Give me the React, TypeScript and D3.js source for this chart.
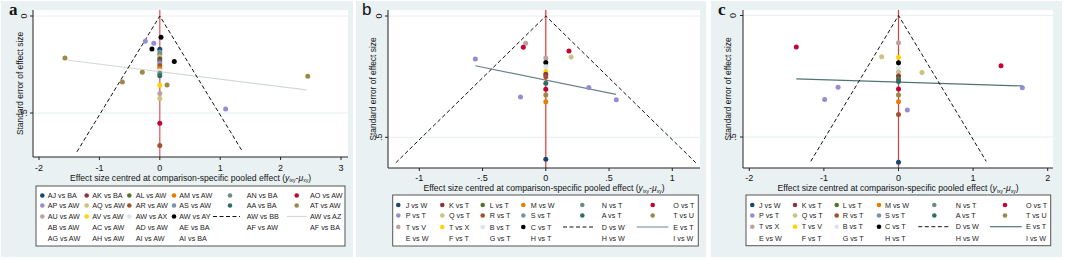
import React from 'react';
import * as d3 from 'd3';

// Stata s2color palette (legend key order)
const PALETTE = ['#1a476f', '#90353b', '#55752f', '#e37e00', '#6e8e84', '#c10534', '#938dd2', '#cac27e', '#a0522d', '#7b92a8', '#2d6d66', '#9c8847', '#bfa19c', '#ffd200', '#d9e6eb', '#000000'];

// ---------- Panel a ----------
const A_LEGEND = [
  'AJ vs BA', 'AK vs BA', 'AL vs AW', 'AM vs AW', 'AN vs BA', 'AO vs AW',
  'AP vs AW', 'AQ vs AW', 'AR vs AW', 'AS vs AW', 'AA vs BA', 'AT vs AW',
  'AU vs AW', 'AV vs AW', 'AW vs AX', 'AW vs AY', 'AW vs BB', 'AW vs AZ',
  'AB vs AW', 'AC vs AW', 'AD vs AW', 'AE vs BA', 'AF vs AW', 'AF vs BA',
  'AG vs AW', 'AH vs AW', 'AI vs AW', 'AI vs BA',
];
const A_X = [0.02, -0.13, 0.24, -0.24, -0.10, 1.09, -1.57, -0.29, -0.62, 0.12, 2.45,
  0, 0, 0, 0, 0, 0, 0, 0, 0, 0, 0, 0, 0, 0, 0, 0, 0];
const A_SE = [0.11, 0.17, 0.235, 0.13, 0.14, 0.48, 0.216, 0.29, 0.34, 0.356, 0.31,
  0.172, 0.185, 0.197, 0.21, 0.222, 0.232, 0.244, 0.256, 0.27, 0.282, 0.295, 0.308, 0.357, 0.40, 0.425, 0.553, 0.668];
const A_KEY = [15, 15, 15, 6, 6, 6, 11, 11, 11, 11, 11,
  0, 9, 4, 7, 1, 2, 6, 8, 3, 14, 4, 10, 13, 12, 7, 5, 8];
const A_FIT_X = [-1.52, 2.43];
const A_FIT_SE = [0.228, 0.381];
const A_FUNNEL_SE = 0.70;
const A_XTICKS = [-2, -1, 0, 1, 2, 3];
const A_XTICK_LABELS = ['-2', '-1', '0', '1', '2', '3'];

// ---------- Panel b ----------
const B_LEGEND = [
  'J vs W', 'K vs T', 'L vs T', 'M vs W', 'N vs T', 'O vs T',
  'P vs T', 'Q vs T', 'R vs T', 'S vs T', 'A vs T', 'T vs U',
  'T vs V', 'T vs X', 'B vs T', 'C vs T', 'D vs W', 'E vs T',
  'E vs W', 'F vs T', 'G vs T', 'H vs T', 'H vs W', 'I vs W',
];
const B_X = [-0.159, -0.178, 0.183, -0.557, -0.2, 0.34, 0.557, 0.2,
  0, 0, 0, 0, 0, 0, 0, 0, 0, 0, 0];
const B_SE = [0.1125, 0.129, 0.144, 0.177, 0.334, 0.295, 0.345, 0.169,
  0.173, 0.192, 0.209, 0.229, 0.24, 0.25, 0.277, 0.302, 0.326, 0.353, 0.59];
const B_KEY = [12, 5, 5, 6, 6, 6, 6, 7,
  12, 15, 14, 13, 1, 8, 10, 5, 11, 3, 0];
const B_FIT_X = [-0.557, 0.555];
const B_FIT_SE = [0.205, 0.323];
const B_FUNNEL_SE = 0.605;
const B_XTICKS = [-1, -0.5, 0, 0.5, 1];
const B_XTICK_LABELS = ['-1', '-.5', '0', '.5', '1'];

// ---------- Panel c ----------
const C_LEGEND = [
  'J vs W', 'K vs T', 'L vs T', 'M vs W', 'N vs T', 'O vs T',
  'P vs T', 'Q vs T', 'R vs T', 'S vs T', 'A vs T', 'T vs U',
  'T vs X', 'T vs V', 'B vs T', 'C vs T', 'D vs W', 'E vs T',
  'E vs W', 'F vs T', 'G vs T', 'H vs T', 'H vs W', 'I vs W',
];
const C_X = [-1.37, -0.225, -0.81, -0.99, 0, 1.374, 0.315, 1.66, 0.118,
  0, 0, 0, 0, 0, 0, 0, 0, 0, 0, 0, 0];
const C_SE = [0.13, 0.17, 0.295, 0.346, 0.112, 0.207, 0.235, 0.297, 0.389,
  0.172, 0.194, 0.216, 0.232, 0.249, 0.261, 0.272, 0.302, 0.327, 0.355, 0.407, 0.604];
const C_KEY = [5, 7, 6, 6, 12, 5, 7, 6, 6,
  13, 15, 14, 7, 1, 2, 10, 5, 11, 3, 8, 0];
const C_FIT_X = [-1.37, 1.66];
const C_FIT_SE = [0.261, 0.29];
const C_FUNNEL_SE = 0.6;
const C_XTICKS = [-2, -1, 0, 1, 2];
const C_XTICK_LABELS = ['-2', '-1', '0', '1', '2'];

const Y_TICKS = [0, 0.5];
const Y_TICK_LABELS = ['0', '.5'];

const FONT = '"Liberation Sans", Arial, sans-serif';

type PanelProps = {
  letter: string; letterFont: string; letterX: number; letterY: number;
  bg: [number, number, number, number];
  plot: [number, number, number, number];
  xPx: [number, number]; xDom: [number, number];
  yPx: [number, number];
  xs: number[]; ses: number[]; keys: number[];
  fitX: number[]; fitSE: number[]; fitColor: string;
  funnelSE: number; zeroColor: string;
  xticks: number[]; xtickLabels: string[];
  tickLabelY: number; titleY: number; yTickLabelX: number; yTitleX: number;
  legend: string[]; legBox: [number, number, number, number];
  legMarkX: number[]; legTextX: number[]; legRows: number[];
  dashKey: [number, number]; lineKey: [number, number];
};

function Panel(p: PanelProps) {
  const [px0, py0, px1, py1] = p.plot;
  const x = d3.scaleLinear().domain(p.xDom).range(p.xPx);
  const y = d3.scaleLinear().domain([0, 0.5]).range(p.yPx);
  const line = d3.line<[number, number]>().x(d => x(d[0])).y(d => y(d[1]));
  const funnel: [number, number][] = [[-1.96 * p.funnelSE, p.funnelSE], [0, 0], [1.96 * p.funnelSE, p.funnelSE]];
  const fit: [number, number][] = p.fitX.map((v, i) => [v, p.fitSE[i]]);
  const [bx0, by0, bx1, by1] = p.bg;
  const [lx0, ly0, lx1, ly1] = p.legBox;
  const yMid = (py0 + py1) / 2;
  return (
    <g>
      <rect x={bx0} y={by0} width={bx1 - bx0} height={by1 - by0} fill="#e9f1f3" />
      <rect x={px0} y={py0} width={px1 - px0} height={py1 - py0} fill="#ffffff" />
      {Y_TICKS.map(t => (
        <line key={'g' + t} x1={px0} x2={px1} y1={y(t)} y2={y(t)} stroke="#e6eef0" strokeWidth={1} />
      ))}
      <path d={line(fit) || ''} fill="none" stroke={p.fitColor} strokeWidth={1.2} />
      <line x1={x(0)} x2={x(0)} y1={py0} y2={py1} stroke={p.zeroColor} strokeWidth={1.3} />
      <path d={line(funnel) || ''} fill="none" stroke="#111" strokeWidth={1} strokeDasharray="4 2.5" />
      {p.xs.map((v, i) => (
        <circle key={'p' + i} cx={x(v)} cy={y(p.ses[i])} r={2.5} fill={PALETTE[p.keys[i]]} />
      ))}
      {/* axes */}
      <line x1={px0} x2={px0} y1={py0} y2={py1} stroke="#222" strokeWidth={1} />
      <line x1={px0} x2={px1} y1={py1} y2={py1} stroke="#222" strokeWidth={1} />
      {Y_TICKS.map((t, i) => (
        <g key={'yt' + t}>
          <line x1={px0 - 3} x2={px0} y1={y(t)} y2={y(t)} stroke="#222" strokeWidth={1} />
          <text transform={`translate(${p.yTickLabelX},${y(t)}) rotate(-90)`} textAnchor="middle" dy="0.35em"
            fontFamily={FONT} fontSize={9} fill="#111">{Y_TICK_LABELS[i]}</text>
        </g>
      ))}
      {p.xticks.map((t, i) => (
        <g key={'xt' + t}>
          <line x1={x(t)} x2={x(t)} y1={py1} y2={py1 + 3} stroke="#222" strokeWidth={1} />
          <text x={x(t)} y={p.tickLabelY} textAnchor="middle" dy="0.35em" fontFamily={FONT} fontSize={9} fill="#111">{p.xtickLabels[i]}</text>
        </g>
      ))}
      <text transform={`translate(${p.yTitleX},${yMid}) rotate(-90)`} textAnchor="middle" dy="0.35em"
        fontFamily={FONT} fontSize={8.4} fill="#111">Standard error of effect size</text>
      <text x={(px0 + px1) / 2} y={p.titleY} textAnchor="middle" dy="0.35em" fontFamily={FONT} fontSize={8.6} fill="#111">
        Effect size centred at comparison-specific pooled effect (<tspan fontStyle="italic">y</tspan><tspan fontSize={5} dy={1.5}>ixy</tspan><tspan dy={-1.5}>-</tspan><tspan fontStyle="italic">μ</tspan><tspan fontSize={5} dy={1.5}>xy</tspan><tspan dy={-1.5}>)</tspan>
      </text>
      <text x={p.letterX} y={p.letterY} fontFamily={p.letterFont} fontWeight={p.letterFont.includes('Serif') ? 'bold' : 'normal'} fontSize={17} fill="#111">{p.letter}</text>
      {/* legend */}
      <rect x={lx0} y={ly0} width={lx1 - lx0} height={ly1 - ly0} fill="#ffffff" stroke="#555" strokeWidth={1} />
      {p.legend.map((lab, i) => {
        const col = i % 6;
        const row = Math.floor(i / 6);
        const ly = p.legRows[row];
        let key: React.ReactNode = null;
        if (i < 16) {
          key = <circle cx={p.legMarkX[col]} cy={ly} r={2.3} fill={PALETTE[i]} />;
        } else if (i === 16) {
          key = <line x1={p.dashKey[0]} x2={p.dashKey[1]} y1={ly} y2={ly} stroke="#111" strokeWidth={1} strokeDasharray="4 2.5" />;
        } else if (i === 17) {
          key = <line x1={p.lineKey[0]} x2={p.lineKey[1]} y1={ly} y2={ly} stroke={p.fitColor} strokeWidth={1.2} />;
        }
        return (
          <g key={'l' + i}>
            {key}
            <text x={p.legTextX[col]} y={ly} dy="0.35em" fontFamily={FONT} fontSize={7.2} fill="#222">{lab}</text>
          </g>
        );
      })}
    </g>
  );
}

export default function App() {
  return (
    <svg width={1065} height={260} style={{ position: 'absolute', left: 0, top: 0, background: '#fff' }}>
      <Panel
        letter="a" letterFont={'"Liberation Serif", serif'} letterX={9} letterY={15}
        bg={[1, 1, 353, 257]} plot={[33, 10, 348, 157]}
        xPx={[39, 341]} xDom={[-2, 3]} yPx={[16, 113]}
        xs={A_X} ses={A_SE} keys={A_KEY}
        fitX={A_FIT_X} fitSE={A_FIT_SE} fitColor="#d3d8d8"
        funnelSE={A_FUNNEL_SE} zeroColor="#e2606a"
        xticks={A_XTICKS} xtickLabels={A_XTICK_LABELS}
        tickLabelY={168} titleY={177.5} yTickLabelX={24} yTitleX={20}
        legend={A_LEGEND} legBox={[36, 186, 345, 246]}
        legMarkX={[42.3, 86.7, 129.3, 174, 230, 296.7]}
        legTextX={[47.7, 92.3, 135.7, 179.3, 246.7, 310]}
        legRows={[195.5, 205.5, 216.5, 227.5, 238.3]}
        dashKey={[213, 240]} lineKey={[286.7, 306.7]}
      />
      <Panel
        letter="b" letterFont={FONT} letterX={362} letterY={15}
        bg={[356, 1, 706, 257]} plot={[388, 10, 700, 168]}
        xPx={[419.3, 672.3]} xDom={[-1, 1]} yPx={[16, 137.3]}
        xs={B_X} ses={B_SE} keys={B_KEY}
        fitX={B_FIT_X} fitSE={B_FIT_SE} fitColor="#6c8488"
        funnelSE={B_FUNNEL_SE} zeroColor="#e8403f"
        xticks={B_XTICKS} xtickLabels={B_XTICK_LABELS}
        tickLabelY={178} titleY={188} yTickLabelX={379} yTitleX={373}
        legend={B_LEGEND} legBox={[392.7, 195, 698.3, 246]}
        legMarkX={[398.3, 442.3, 482.7, 523.3, 582.3, 652.7]}
        legTextX={[405.7, 449, 489.7, 530.7, 601.7, 673.3]}
        legRows={[205, 215.5, 227, 238]}
        dashKey={[563, 595]} lineKey={[636.7, 668.3]}
      />
      <Panel
        letter="c" letterFont={'"Liberation Serif", serif'} letterX={718} letterY={15}
        bg={[711, 1, 1062, 257]} plot={[743, 10, 1053, 168]}
        xPx={[749.3, 1047.7]} xDom={[-2, 2]} yPx={[15.5, 137]}
        xs={C_X} ses={C_SE} keys={C_KEY}
        fitX={C_FIT_X} fitSE={C_FIT_SE} fitColor="#517371"
        funnelSE={C_FUNNEL_SE} zeroColor="#b8504a"
        xticks={C_XTICKS} xtickLabels={C_XTICK_LABELS}
        tickLabelY={178.3} titleY={188} yTickLabelX={733} yTitleX={728}
        legend={C_LEGEND} legBox={[746, 195, 1050.7, 245.7]}
        legMarkX={[752.3, 795, 836.7, 879, 934.3, 1005]}
        legTextX={[759, 801.7, 842.7, 885, 955.7, 1026]}
        legRows={[205, 215.5, 226.7, 238.3]}
        dashKey={[918.3, 950]} lineKey={[990, 1021.7]}
      />
    </svg>
  );
}
